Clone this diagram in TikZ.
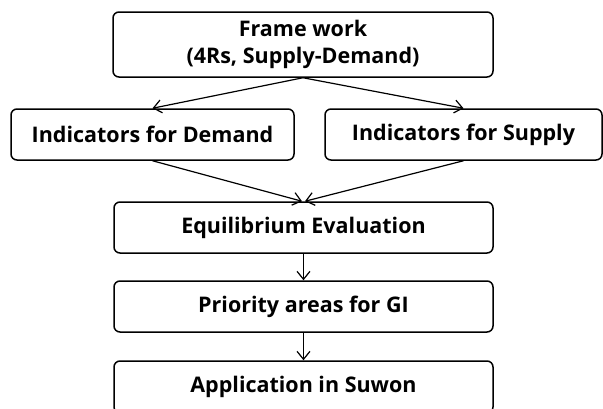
\documentclass[tikz,border=0pt]{standalone}
\usepackage{fontspec}
\setmainfont{Open Sans}
\usetikzlibrary{arrows.meta}
\begin{document}
\begin{tikzpicture}[x=1pt,y=-1pt,
  box/.style={draw=black, line width=1.5pt, rounded corners=6pt, inner sep=0pt, align=center, font=\fontsize{21.5}{27}\selectfont\bfseries},
  conn/.style={draw=black, line width=1.2pt, -{Straight Barb[length=8pt,width=13pt,line width=1.2pt]}}]
\useasboundingbox (0,0) rectangle (603,408);
\clip (0,0) rectangle (603,408);
\node[box, minimum width=380pt, minimum height=65pt] (frame) at (303,44.5) {Frame work\\(4Rs, Supply-Demand)};
\node[box, minimum width=283pt, minimum height=51pt] (dem) at (152.5,134.5) {Indicators for Demand};
\node[box, minimum width=277pt, minimum height=51pt] (sup) at (463.5,134.5) {Indicators for Supply};
\node[box, minimum width=379pt, minimum height=51pt] (eq) at (303.5,227.5) {Equilibrium Evaluation};
\node[box, minimum width=379pt, minimum height=51pt] (pri) at (303.5,306.5) {Priority areas for GI};
\node[box, minimum width=379pt, minimum height=52pt] (app) at (303.5,387) {Application in Suwon};
\draw[conn] (frame.south) -- (dem.north);
\draw[conn] (frame.south) -- (sup.north);
\draw[conn] (dem.south) -- ([xshift=-1.5pt]eq.north);
\draw[conn] (sup.south) -- ([xshift=1.5pt]eq.north);
\draw[conn] (eq.south) -- (pri.north);
\draw[conn] (pri.south) -- (app.north);
\end{tikzpicture}
\end{document}
